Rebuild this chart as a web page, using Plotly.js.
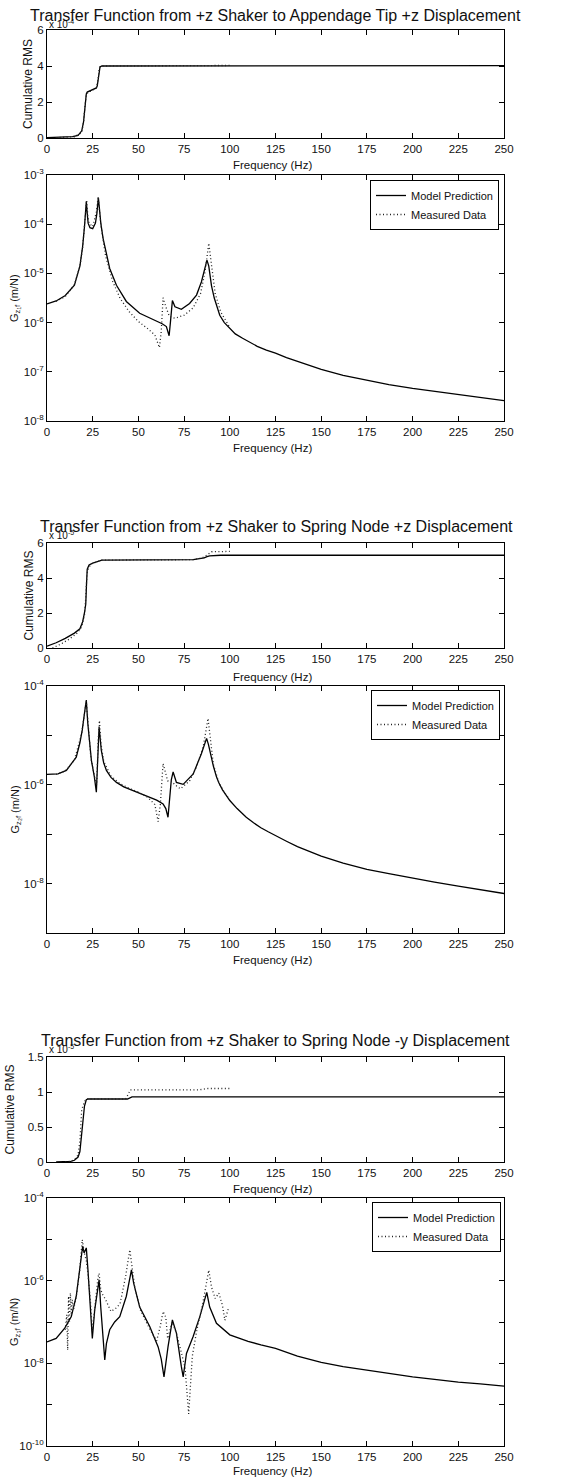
<!DOCTYPE html>
<html><head><meta charset="utf-8">
<script src="https://cdn.plot.ly/plotly-3.0.1.min.js"></script>
<style>html,body{margin:0;padding:0;background:#fff}#chart{width:561px;height:1482px}</style>
</head><body><div id="chart"></div>
<script>
// ---------- DATA ----------
const freqTicks = [0,25,50,75,100,125,150,175,200,225,250];
const chartTitles = [
  "Transfer Function from +z Shaker to Appendage Tip +z Displacement",
  "Transfer Function from +z Shaker to Spring Node +z Displacement",
  "Transfer Function from +z Shaker to Spring Node -y Displacement"
];
const rmsMultipliers = ["x 10<sup>-4</sup>","x 10<sup>-5</sup>","x 10<sup>-5</sup>"];
const gLabels = ["G<sub>z₁f</sub> (m/N)","G<sub>z₂f</sub> (m/N)","G<sub>z₃f</sub> (m/N)"];
const seriesNames = ["Model Prediction","Measured Data"];

// Panel 1: cumulative RMS (axis units, x10^-4)
const rms1ModelF = [0,5,10,14,17,19,20,20.5,21,21.5,22,24,26,27,27.5,28,28.5,29,30,87,89,250];
const rms1ModelV = [0.02,0.03,0.05,0.08,0.15,0.4,0.9,1.5,2.2,2.45,2.55,2.65,2.72,2.78,2.9,3.3,3.8,3.95,4.0,4.0,4.02,4.02];
const rms1MeasF  = [5,10,15,19,20,21,21.5,22.5,25,27,28,28.5,29,30,60,88,90,100];
const rms1MeasV  = [0.02,0.04,0.07,0.3,0.9,2.0,2.4,2.55,2.65,2.78,3.3,3.8,3.95,4.0,4.0,4.0,4.03,4.03];

// Panel 2: |G z1 f| (m/N)
const g1ModelF = [0,5,10,15,18,19.5,20.5,21,21.5,22,22.5,23.5,25,26.5,27.3,28.1,28.8,29.5,30.7,32.5,34.3,38,43.4,50.7,58,63,65.3,66.2,66.8,67.5,68.6,70,73.5,78,81.8,84.5,86,87.5,88.5,90,91.5,93,94.5,97,100,103,107,115,120,125,131,137,143,150,162,175,187,200,212,225,237,250];
const g1ModelV = [2.4e-6,2.75e-6,3.55e-6,5.75e-6,1.41e-5,3.55e-5,8.9e-5,1.58e-4,2.88e-4,1.66e-4,1.05e-4,8.5e-5,8.1e-5,1.05e-4,1.66e-4,3.47e-4,1.78e-4,1.0e-4,5.1e-5,2.4e-5,1.26e-5,5.75e-6,2.69e-6,1.55e-6,1.15e-6,9.5e-7,8.3e-7,6.3e-7,5.4e-7,1.0e-6,2.82e-6,2.09e-6,1.86e-6,2.45e-6,3.63e-6,6.76e-6,1.17e-5,1.86e-5,1.41e-5,5.6e-6,3.16e-6,2.0e-6,1.41e-6,1.0e-6,7.6e-7,5.9e-7,4.8e-7,3.3e-7,2.75e-7,2.4e-7,1.95e-7,1.62e-7,1.35e-7,1.12e-7,8.5e-8,6.8e-8,5.5e-8,4.6e-8,4.0e-8,3.5e-8,3.0e-8,2.6e-8];
const g1MeasF = [5,10,15,18,19.5,20.5,21.2,21.7,22.3,23,25,27,28,28.8,29.5,32,36,40,45,50,55,59,61.5,62.5,63.5,65,67,70,75,80,84,86.5,88.5,90,92,95,100];
const g1MeasV = [2.7e-6,3.4e-6,5.9e-6,1.4e-5,3.4e-5,9.0e-5,2.0e-4,3.1e-4,1.5e-4,1.05e-4,8.9e-5,1.78e-4,3.6e-4,1.9e-4,9.5e-5,2.3e-5,6.8e-6,3.1e-6,1.66e-6,1.05e-6,7.6e-7,5.6e-7,3.1e-7,6.6e-7,3.2e-6,2.1e-6,1.32e-6,1.23e-6,1.41e-6,2.0e-6,3.9e-6,1.1e-5,4.1e-5,1.48e-5,3.9e-6,1.66e-6,7.9e-7];

// Panel 3: cumulative RMS (axis units, x10^-5)
const rms2ModelF = [0,5,10,15,18,19.5,20.5,21.2,21.6,22,23,25,28,30,80,84,86,87.5,89,95,250];
const rms2ModelV = [0.1,0.3,0.55,0.85,1.1,1.5,2.0,2.5,3.6,4.5,4.75,4.85,4.95,5.02,5.05,5.1,5.15,5.22,5.27,5.3,5.3];
const rms2MeasF  = [3,8,12,16,19,20.5,21.3,21.8,22.5,24,28,30,80,85,88,90,100];
const rms2MeasV  = [0.0,0.25,0.5,0.8,1.2,1.9,3.0,4.2,4.5,4.8,4.95,5.02,5.05,5.15,5.35,5.5,5.52];

// Panel 4: |G z2 f| (m/N)
const g2ModelF = [0,3,6,10.6,16,18,19.3,20.5,21.5,22.3,23.3,24.3,25.9,26.5,27,27.5,27.9,28.5,29.2,29.7,31,32.5,35,38,42,47,52,56.2,60,63.5,65,66.2,67.2,68,69,70.8,74.5,80,84.5,86,87.3,88.3,89.5,91,92.7,94,96,98,100,104,109,113,117,121,125,131,137,143,150,162,175,187,200,212,225,237,250];
const g2ModelV = [1.62e-6,1.62e-6,1.66e-6,1.95e-6,3.63e-6,7.1e-6,1.29e-5,2.8e-5,5.2e-5,1.78e-5,6.3e-6,3.1e-6,1.45e-6,1.0e-6,7.1e-7,2.0e-6,6.8e-6,1.48e-5,7.9e-6,5.0e-6,2.8e-6,1.95e-6,1.41e-6,1.12e-6,9.1e-7,7.6e-7,6.5e-7,5.6e-7,4.9e-7,4.1e-7,3.3e-7,2.2e-7,5.0e-7,1.26e-6,1.82e-6,1.12e-6,1.02e-6,1.66e-6,4.3e-6,6.3e-6,8.7e-6,6.6e-6,4.0e-6,2.4e-6,1.45e-6,1.1e-6,7.9e-7,6.3e-7,4.8e-7,3.3e-7,2.2e-7,1.7e-7,1.35e-7,1.12e-7,9.3e-8,7.2e-8,5.6e-8,4.5e-8,3.6e-8,2.6e-8,1.95e-8,1.6e-8,1.29e-8,1.07e-8,8.9e-9,7.6e-9,6.3e-9];
const g2MeasF = [5,10,15,19,21.5,22.5,24,26,27.2,28,28.7,29.5,31,35,40,45,50,55,59,60.8,62,63.5,64.5,66,68,70,73,78,82,85.5,88.1,89.5,91,94,97,100];
const g2MeasV = [1.62e-6,1.9e-6,3.2e-6,1.1e-5,5.0e-5,1.5e-5,3.5e-6,1.5e-6,1.0e-6,8e-6,2.0e-5,7e-6,3e-6,1.5e-6,1.05e-6,8.5e-7,7.1e-7,5.6e-7,4.0e-7,1.8e-7,4e-7,2.7e-6,2.0e-6,1.2e-6,1.2e-6,1.0e-6,8.3e-7,1.2e-6,2.4e-6,6.0e-6,2.2e-5,8e-6,2.6e-6,1.1e-6,7e-7,5e-7];

// Panel 5: cumulative RMS (axis units, x10^-5)
const rms3ModelF = [5,10,13,15,17,18,18.5,19,19.7,20.5,21.5,22.5,44,45.5,46.5,250];
const rms3ModelV = [0,0.003,0.01,0.025,0.07,0.15,0.3,0.45,0.55,0.8,0.89,0.9,0.9,0.92,0.93,0.93];
const rms3MeasF  = [10,13,15,17,18,18.5,19,19.7,20.5,21.5,22.5,43,44.5,45.5,83,88,100];
const rms3MeasV  = [0.002,0.01,0.03,0.1,0.3,0.6,0.75,0.8,0.86,0.9,0.9,0.9,0.97,1.03,1.03,1.05,1.05];

// Panel 6: |G z3 f| (m/N)
const g3ModelF = [0,5,9.7,13.3,16,17.9,19.5,20.3,21.5,22.4,23.7,24.8,26.1,27.9,28.5,29.4,30.7,31.6,32.5,34.3,37,39.8,43.4,45.3,46.2,47.4,50.7,56.2,60.8,62.5,64,65,66.2,68.6,70.8,73.5,74.5,76.3,80,83.6,87.4,89,92.7,100,105,110,117,125,137,150,162,175,187,200,212,225,237,250];
const g3ModelV = [3.3e-8,4.0e-8,7.1e-8,1.35e-7,4.2e-7,1.82e-6,6.8e-6,4.7e-6,6.2e-6,1.82e-6,2.8e-7,4.0e-8,1.95e-7,8.7e-7,1.05e-6,2.3e-7,3.0e-8,1.2e-8,3.0e-8,6.5e-8,1.0e-7,1.35e-7,4.2e-7,1.26e-6,1.82e-6,8.7e-7,2.3e-7,7.8e-8,2.5e-8,1.26e-8,4.7e-9,1.0e-8,2.5e-8,1.12e-7,5.4e-8,8.3e-9,4.7e-9,1.74e-8,4.5e-8,1.35e-7,5.2e-7,2.3e-7,9.3e-8,4.9e-8,4.0e-8,3.4e-8,2.8e-8,2.3e-8,1.5e-8,1.05e-8,8.3e-9,6.9e-9,5.6e-9,4.7e-9,4.1e-9,3.5e-9,3.2e-9,2.8e-9];
const g3MeasF = [10,10.8,11.3,11.8,12.3,12.8,13.3,13.8,14.5,16,17.9,19.3,20.3,21.5,22.4,23.7,24.8,26.1,27.9,28.5,29.4,30.5,32,35,38,40,43,45.3,46.5,48,51,56,60,62,63.5,65,66,68.5,71,74,75.5,77.5,78.5,79.5,82,85,88.5,90,92,94,96,97.3,99.5];
const g3MeasV = [6.5e-8,1.5e-7,2.1e-8,4.2e-7,1.0e-7,5.0e-7,1.5e-7,3.5e-7,2.0e-7,4.0e-7,1.8e-6,9.8e-6,5e-6,3.0e-6,1.5e-6,3.5e-7,6e-8,2.5e-7,1.2e-6,1.5e-6,6e-7,4.6e-7,3.5e-7,1.8e-7,2.2e-7,2.8e-7,1.26e-6,5.6e-6,2.5e-6,7e-7,2.0e-7,7e-8,3.5e-8,8e-8,1.8e-7,1.3e-7,4e-8,1.0e-7,5e-8,1.5e-8,8e-9,6e-10,4e-9,1.5e-8,6.5e-8,2.5e-7,1.8e-6,7e-7,3.7e-7,5.0e-7,2.5e-7,1.1e-7,2.3e-7];

// ---------- LAYOUT ----------
const W = 561, H = 1482, L = 47, R = 57;
const PW = W - L - R;
const px = p => (p - L) / PW;
const py = p => 1 - p / H;
const panels = [[30,138],[175,421],[543,648],[686,933],[1057,1162],[1198,1446]];
const FONT = "Liberation Sans, Arial, Helvetica, sans-serif";
const INK = "#111";

const modelLine = {color:"#000", width:1.3};
const measLine  = {color:"#222", width:1.3, dash:"1px,2.5px"};

const traces = [];
function addPair(idx, mf, mv, ff, fv, legendName) {
  const ax = idx === 1 ? "" : String(idx);
  traces.push({x: mf, y: mv, type:"scatter", mode:"lines", line: modelLine,
    xaxis:"x"+ax, yaxis:"y"+ax, name: seriesNames[0], showlegend: !!legendName, legend: legendName || "legend"});
  traces.push({x: ff, y: fv, type:"scatter", mode:"lines", line: measLine,
    xaxis:"x"+ax, yaxis:"y"+ax, name: seriesNames[1], showlegend: !!legendName, legend: legendName || "legend"});
}
addPair(1, rms1ModelF, rms1ModelV, rms1MeasF, rms1MeasV, null);
addPair(2, g1ModelF, g1ModelV, g1MeasF, g1MeasV, "legend");
addPair(3, rms2ModelF, rms2ModelV, rms2MeasF, rms2MeasV, null);
addPair(4, g2ModelF, g2ModelV, g2MeasF, g2MeasV, "legend2");
addPair(5, rms3ModelF, rms3ModelV, rms3MeasF, rms3MeasV, null);
addPair(6, g3ModelF, g3ModelV, g3MeasF, g3MeasV, "legend3");

const layout = {
  width: W, height: H,
  margin: {l: L, r: R, t: 0, b: 0, pad: 0},
  paper_bgcolor: "#fff", plot_bgcolor: "#fff",
  font: {family: FONT, size: 11, color: INK},
  annotations: [], showlegend: true
};

function baseX(idx) {
  return {domain:[0,1], range:[0,250], tickmode:"array", tickvals: freqTicks,
    ticktext: freqTicks.map(String), ticks:"inside", ticklen:5, tickcolor:"#000",
    showline:true, mirror:"ticks", linecolor:"#000", linewidth:1, showgrid:false, zeroline:false,
    tickfont:{size:11.5, family:FONT, color:INK}, anchor: "y"+(idx===1?"":idx), fixedrange:true};
}
function baseY(idx) {
  const d = panels[idx-1];
  return {domain:[py(d[1]), py(d[0])], ticks:"inside", ticklen:5, tickcolor:"#000",
    showline:true, mirror:"ticks", linecolor:"#000", linewidth:1, showgrid:false, zeroline:false,
    tickfont:{size:11.5, family:FONT, color:INK}, anchor: "x"+(idx===1?"":idx), fixedrange:true};
}
function decades(lo, hi, step) {
  const vals = [], txt = [], minor = [];
  for (let e = lo; e <= hi; e++) {
    if ((hi - e) % step === 0) { vals.push(Math.pow(10, e)); txt.push("10<sup>" + e + "</sup>"); }
    else minor.push(Math.pow(10, e));
  }
  return {vals, txt, minor};
}
for (let i = 1; i <= 6; i++) {
  const k = i === 1 ? "" : String(i);
  layout["xaxis"+k] = baseX(i);
  layout["yaxis"+k] = baseY(i);
}
// RMS axes
Object.assign(layout.yaxis,  {range:[0,6], tickmode:"array", tickvals:[0,2,4,6], ticktext:["0","2","4","6"]});
Object.assign(layout.yaxis3, {range:[0,6], tickmode:"array", tickvals:[0,2,4,6], ticktext:["0","2","4","6"]});
Object.assign(layout.yaxis5, {range:[0,1.5], tickmode:"array", tickvals:[0,0.5,1,1.5], ticktext:["0","0.5","1","1.5"]});
// log axes
function logAxis(ax, lo, hi, step) {
  const d = decades(lo, hi, step);
  Object.assign(ax, {type:"log", range:[lo,hi], tickmode:"array", tickvals:d.vals, ticktext:d.txt});
  if (d.minor.length) ax.minor = {tickmode:"array", tickvals:d.minor, ticks:"inside", ticklen:5, tickcolor:"#000", showgrid:false};
}
logAxis(layout.yaxis2, -8, -3, 1);
logAxis(layout.yaxis4, -9, -4, 2);
logAxis(layout.yaxis6, -10, -4, 2);

// legends
const legBase = {xref:"paper", yref:"paper", xanchor:"right", yanchor:"top", bgcolor:"#fff",
  bordercolor:"#000", borderwidth:1, font:{size:11, family:FONT, color:INK}, tracegroupgap:0, itemwidth:30};
layout.legend  = Object.assign({}, legBase, {x: px(499), y: py(180)});
layout.legend2 = Object.assign({}, legBase, {x: px(500), y: py(690)});
layout.legend3 = Object.assign({}, legBase, {x: px(501), y: py(1202)});

// text annotations
const ann = layout.annotations;
function note(text, xp, yp, opts) {
  ann.push(Object.assign({text, x: px(xp), y: py(yp), xref:"paper", yref:"paper",
    showarrow:false, font:{size:11, family:FONT, color:INK}, xanchor:"center", yanchor:"middle"}, opts||{}));
}
const titleY = [15, 526, 1040];
const titleX = [275, 276, 275];
const freqLabelY = [165, 448, 677, 960, 1189, 1471];
const rmsLabelX = [28, 28, 9];
for (let i = 0; i < 3; i++) {
  note(chartTitles[i], titleX[i], titleY[i], {font:{size:16, family:FONT, color:INK}});
  note(rmsMultipliers[i], 47, titleY[i] + 9, {xanchor:"left", font:{size:10, family:FONT, color:INK}});
  const rp = panels[2*i], gp = panels[2*i+1];
  note("Cumulative RMS", rmsLabelX[i], (rp[0]+rp[1])/2, {textangle:-90, font:{size:12, family:FONT, color:INK}});
  note(gLabels[i], 15, (gp[0]+gp[1])/2, {textangle:-90, font:{size:11, family:FONT, color:INK}});
}
for (let i = 0; i < 6; i++) note("Frequency (Hz)", 272, freqLabelY[i], {font:{size:11.5, family:FONT, color:INK}});

Plotly.newPlot("chart", traces, layout, {displayModeBar:false, staticPlot:true});
</script></body></html>
